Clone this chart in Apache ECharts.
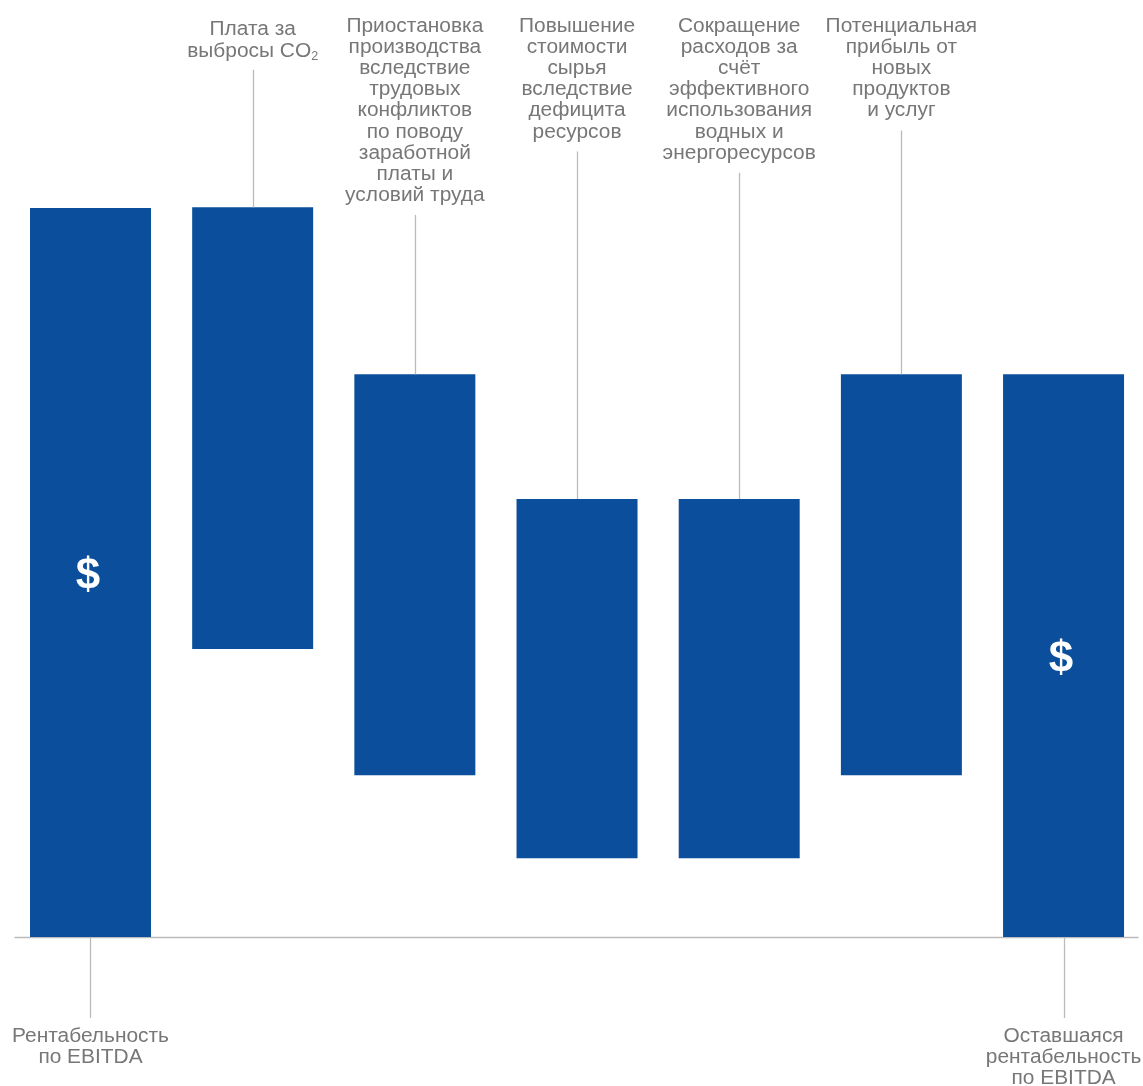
<!DOCTYPE html>
<html>
<head>
<meta charset="utf-8">
<script src="https://cdn.jsdelivr.net/npm/echarts@6/dist/echarts.min.js"></script>
<style>
  html, body { margin: 0; padding: 0; background: #fff; }
  #chart { width: 1143px; height: 1086px; }
</style>
</head>
<body>
<div id="chart"></div>
<script>
// подписи столбцов (первый и последний — снизу, остальные — сверху)
const categories = [
    'Рентабельность\nпо EBITDA',
    'Плата за\nвыбросы CO{sub|2}',
    'Приостановка\nпроизводства\nвследствие\nтрудовых\nконфликтов\nпо поводу\nзаработной\nплаты и\nусловий труда',
    'Повышение\nстоимости\nсырья\nвследствие\nдефицита\nресурсов',
    'Сокращение\nрасходов за\nсчёт\nэффективного\nиспользования\nводных и\nэнергоресурсов',
    'Потенциальная\nприбыль от\nновых\nпродуктов\nи услуг',
    'Оставшаяся\nрентабельность\nпо EBITDA'
]
const labelSide = ['bottom', 'top', 'top', 'top', 'top', 'top', 'bottom']
// нижняя и верхняя граница каждого столбца
const lowValues  = [0, 39.5, 22.2, 10.8, 10.8, 22.2, 0]
const highValues = [100, 100.1, 77.2, 60.1, 60.1, 77.2, 77.2]
const barMarks   = ['$', '', '', '', '', '', '$']

const BAR_COLOR = '#0b4e9b'
const TEXT_COLOR = '#777777'
const LINE_COLOR = '#bbbbbb'
const FONT = '"Liberation Sans", Arial, sans-serif'
const FS = 20, LH = 21.1, SX = 1.045
const LABEL_TOP = 16
const LABEL_SHIFT = [0, 2.5, 0, 0, 0, 0, 0]

const data = categories.map((c, i) => [i, lowValues[i], highValues[i]])

function makeText(txt, x, y) {
    return {
        type: 'text',
        x: x, y: y,
        scaleX: SX,
        style: {
            text: txt,
            x: 0, y: 0,
            fill: TEXT_COLOR,
            fontSize: FS,
            fontFamily: FONT,
            lineHeight: LH,
            align: 'center',
            verticalAlign: 'top',
            rich: {
                sub: { fontSize: 12, fontFamily: FONT, fill: TEXT_COLOR, lineHeight: LH + 2, verticalAlign: 'bottom' }
            }
        }
    }
}

function renderItem(params, api) {
    const i = api.value(0)
    const pLow = api.coord([i, api.value(1)])
    const pHigh = api.coord([i, api.value(2)])
    const base = api.coord([i, 0])
    const w = api.size([1, 0])[0] * 0.746
    const cx = Math.round(pLow[0]) + 0.5
    const children = [{
        type: 'rect',
        shape: { x: pLow[0] - w / 2, y: pHigh[1], width: w, height: pLow[1] - pHigh[1] },
        style: { fill: BAR_COLOR }
    }]
    if (barMarks[i]) {
        children.push({
            type: 'text',
            x: pLow[0] - 2.5, y: (pLow[1] + pHigh[1]) / 2 + 4,
            style: {
                text: barMarks[i], x: 0, y: 0,
                fill: '#fff', fontSize: 44, fontWeight: 'bold', fontFamily: FONT,
                align: 'center', verticalAlign: 'middle'
            }
        })
    }
    const nLines = categories[i].split('\n').length
    if (labelSide[i] == 'top') {
        const top = LABEL_TOP + LABEL_SHIFT[i]
        children.push(makeText(categories[i], pLow[0], top))
        children.push({
            type: 'line',
            shape: { x1: cx, y1: top + nLines * LH + 9, x2: cx, y2: pHigh[1] },
            style: { stroke: LINE_COLOR, lineWidth: 1.3 }
        })
    } else {
        children.push({
            type: 'line',
            shape: { x1: cx, y1: base[1], x2: cx, y2: base[1] + 81 },
            style: { stroke: LINE_COLOR, lineWidth: 1.3 }
        })
        children.push(makeText(categories[i], pLow[0], base[1] + 89))
    }
    return { type: 'group', children: children }
}

const chart = echarts.init(document.getElementById('chart'))
chart.setOption({
    animation: false,
    grid: { left: 15, right: 5, top: 4, bottom: 149 },
    xAxis: {
        type: 'value',
        min: -0.4655,
        max: 6.459,
        axisLine: { show: true, lineStyle: { color: LINE_COLOR, width: 1.3 } },
        axisTick: { show: false },
        axisLabel: { show: false },
        splitLine: { show: false }
    },
    yAxis: {
        type: 'value',
        min: 0,
        max: 128,
        axisLine: { show: false },
        axisTick: { show: false },
        axisLabel: { show: false },
        splitLine: { show: false }
    },
    series: [{
        type: 'custom',
        renderItem: renderItem,
        data: data,
        clip: false
    }]
})
</script>
</body>
</html>
